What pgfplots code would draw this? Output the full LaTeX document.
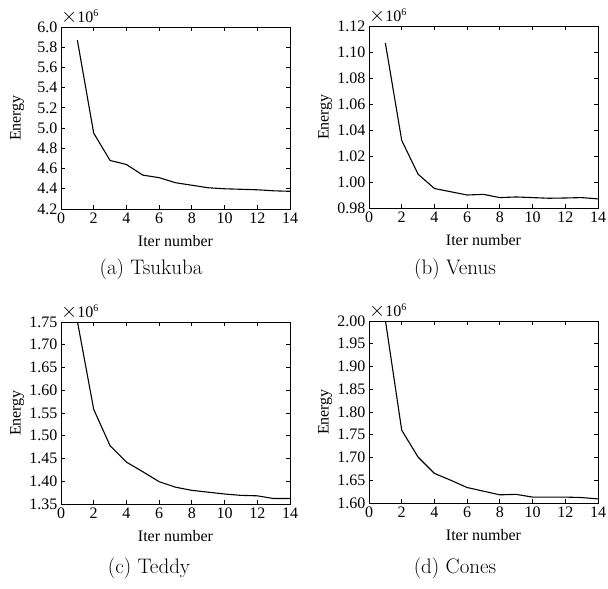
\documentclass[border=0pt]{standalone}
\usepackage{fontspec}
\newfontfamily\lmfont{Latin Modern Roman}
\setmainfont{Liberation Serif}
\usepackage{pgfplots}
\pgfplotsset{compat=1.18}
\pgfplotsset{
  myax/.style={
    scale only axis, width=229bp, height=182bp,
    xmin=0, xmax=14, xtick={0,2,...,14},
    tick align=inside, xtick pos=both, ytick pos=both,
    major tick length=4bp,
    axis line style={line width=0.8bp},
    every tick/.style={black, line width=0.8bp},
    tick label style={font=\fontsize{16bp}{19bp}\selectfont},
    /pgf/number format/assume math mode=true,
    scaled y ticks=false,
    xlabel={Iter number}, ylabel={Energy},
    every axis x label/.style={at={(axis description cs:0.5,-0.176)}, anchor=center, font=\fontsize{16bp}{19bp}\selectfont},
    every axis y label/.style={at={(axis description cs:-0.192,0.5)}, rotate=90, anchor=center, font=\fontsize{16bp}{19bp}\selectfont},
    clip mode=individual,
  },
  myplot/.style={black, line width=1.1bp, no markers},
}
\newcommand{\mult}{\node[anchor=south west, inner sep=0pt, font=\fontsize{16bp}{19bp}\selectfont] at (axis description cs:0,1.015) {{\fontsize{19bp}{20bp}\selectfont$\times$}10\textsuperscript{\fontsize{10bp}{11bp}\selectfont 6}};}
\begin{document}
\begin{tikzpicture}
\useasboundingbox (0bp,0bp) rectangle (608bp,-589bp);
% (a) Tsukuba
\begin{axis}[myax, at={(61bp,-209bp)}, anchor=south west,
  ymin=4.2, ymax=6.0, ytick={4.2,4.4,...,6.0},
  yticklabel style={/pgf/number format/.cd, fixed, fixed zerofill, precision=1}]
\addplot[myplot] coordinates {(1,5.87) (2,4.95) (3,4.68) (4,4.64) (5,4.535) (6,4.51) (7,4.46) (8,4.435) (9,4.41) (10,4.40) (11,4.395) (12,4.39) (13,4.38) (14,4.375)};
\mult
\end{axis}
% (b) Venus
\begin{axis}[myax, at={(369bp,-208bp)}, anchor=south west,
  ymin=0.98, ymax=1.12, ytick={0.98,1.00,...,1.12},
  yticklabel style={/pgf/number format/.cd, fixed, fixed zerofill, precision=2}]
\addplot[myplot] coordinates {(1,1.107) (2,1.032) (3,1.006) (4,0.995) (5,0.9925) (6,0.990) (7,0.9905) (8,0.988) (9,0.9885) (10,0.988) (11,0.9875) (12,0.9877) (13,0.988) (14,0.987)};
\mult
\end{axis}
% (c) Teddy
\begin{axis}[myax, at={(61bp,-504bp)}, anchor=south west,
  ymin=1.35, ymax=1.75, ytick={1.35,1.40,...,1.75},
  yticklabel style={/pgf/number format/.cd, fixed, fixed zerofill, precision=2}]
\addplot[myplot] coordinates {(1,1.752) (2,1.558) (3,1.478) (4,1.442) (5,1.421) (6,1.399) (7,1.387) (8,1.380) (9,1.376) (10,1.372) (11,1.369) (12,1.368) (13,1.362) (14,1.362)};
\mult
\end{axis}
% (d) Cones
\begin{axis}[myax, at={(369bp,-503bp)}, anchor=south west,
  ymin=1.60, ymax=2.00, ytick={1.60,1.65,...,2.00},
  yticklabel style={/pgf/number format/.cd, fixed, fixed zerofill, precision=2}]
\addplot[myplot] coordinates {(1,2.002) (2,1.760) (3,1.701) (4,1.665) (5,1.650) (6,1.634) (7,1.626) (8,1.618) (9,1.619) (10,1.613) (11,1.613) (12,1.613) (13,1.612) (14,1.609)};
\mult
\end{axis}
\begin{scope}[every node/.style={font=\lmfont\fontsize{21bp}{25bp}\selectfont}]
\node at (151bp,-269bp) {(a) Tsukuba};
\node at (455bp,-269bp) {(b) Venus};
\node at (149bp,-568bp) {(c) Teddy};
\node at (455bp,-568bp) {(d) Cones};
\end{scope}
\end{tikzpicture}
\end{document}
